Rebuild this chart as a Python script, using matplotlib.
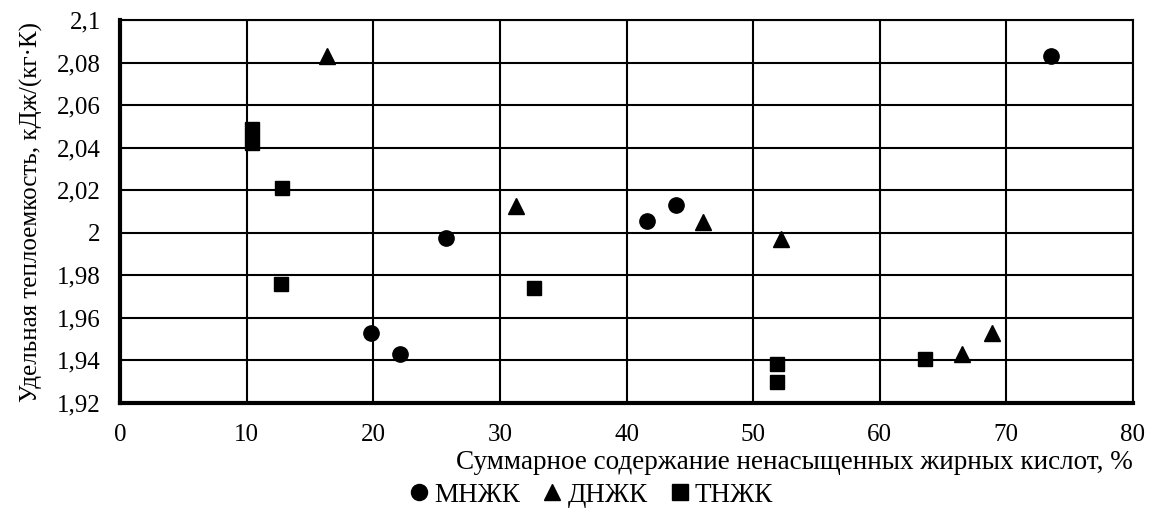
import matplotlib
matplotlib.use("Agg")
import matplotlib.pyplot as plt
from matplotlib.ticker import FuncFormatter, MultipleLocator

plt.rcParams["font.family"] = ["Liberation Serif", "DejaVu Serif"]

# МНЖК
mono_x = [19.8, 22.1, 25.7, 41.6, 43.9, 73.5]
mono_y = [1.953, 1.943, 1.9975, 2.0055, 2.013, 2.083]
# ДНЖК
di_x = [16.3, 31.3, 46.0, 52.2, 66.5, 68.9]
di_y = [2.083, 2.0125, 2.005, 1.997, 1.943, 1.953]
# ТНЖК
tri_x = [10.4, 10.4, 12.8, 12.7, 32.7, 51.9, 51.9, 63.6]
tri_y = [2.049, 2.042, 2.021, 1.976, 1.974, 1.9385, 1.930, 1.9405]

labels = ["МНЖК", "ДНЖК", "ТНЖК"]

fig = plt.figure(figsize=(11.56, 5.14), dpi=100)
ax = fig.add_axes([0.104, 0.216, 0.876, 0.745])

ax.plot(mono_x, mono_y, "o", color="black", markersize=11, label=labels[0])
ax.plot(di_x, di_y, "^", color="black", markersize=11, label=labels[1])
ax.plot(tri_x, tri_y, "s", color="black", markersize=10.5, label=labels[2])

ax.set_xlim(0, 80)
ax.set_ylim(1.92, 2.1)
ax.xaxis.set_major_locator(MultipleLocator(10))
ax.yaxis.set_major_locator(MultipleLocator(0.02))


def comma_fmt(v, pos):
    s = f"{v:.2f}".rstrip("0").rstrip(".")
    return s.replace(".", ",")


ax.yaxis.set_major_formatter(FuncFormatter(comma_fmt))
ax.grid(True, color="black", linewidth=1.5)
ax.set_axisbelow(True)
ax.tick_params(length=0, labelsize=18)
ax.tick_params(axis="x", pad=15)
ax.tick_params(axis="y", pad=14)

for side in ("top", "right"):
    ax.spines[side].set_linewidth(1.5)
for side in ("left", "bottom"):
    ax.spines[side].set_linewidth(3)

ax.set_ylabel("Удельная теплоемкость, кДж/(кг·К)", fontsize=18, labelpad=10)
ax.set_xlabel("Суммарное содержание ненасыщенных жирных кислот, %", fontsize=19.5,
              loc="right", labelpad=3)

fig.legend(loc="lower center", bbox_to_anchor=(0.511, -0.035), ncol=3, frameon=False,
           fontsize=19.5, handlelength=0.8, handletextpad=0.15, columnspacing=0.8,
           markerscale=1.05)

fig.savefig("out.png", dpi=100)
